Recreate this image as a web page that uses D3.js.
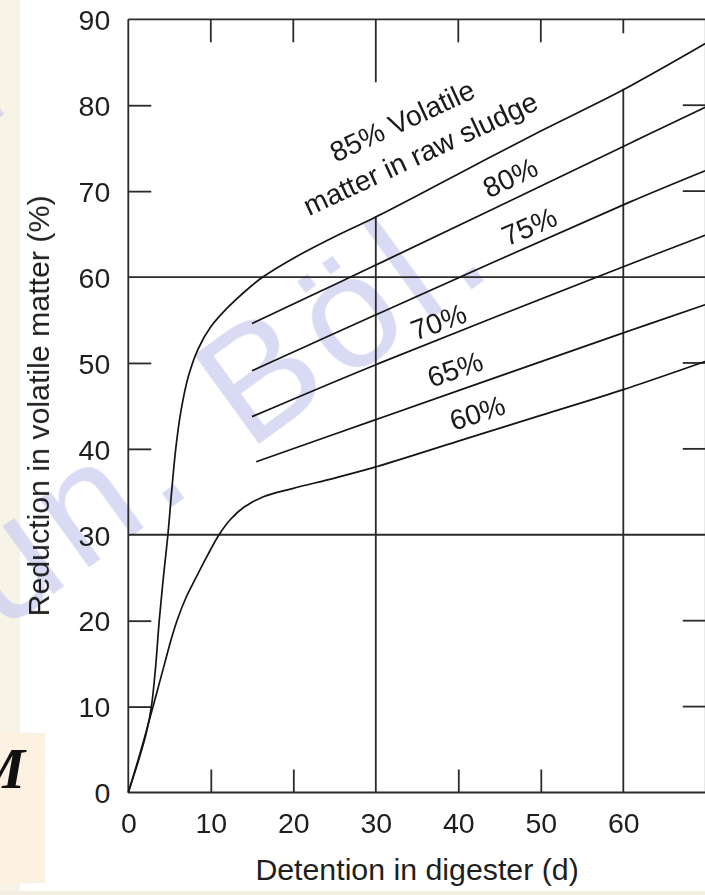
<!DOCTYPE html>
<html lang="en">
  <head>
    <meta charset="UTF-8" />
    <title>Reduction in volatile matter vs detention</title>
    <script src="https://d3js.org/d3.v7.min.js"></script>
    <style>
      body {
        margin: 0;
        background: #fff;
        font-family: "Liberation Sans", Arial, Helvetica, sans-serif;
      }
      svg {
        display: block;
      }
      .tick text {
        font-size: 28.5px;
        fill: #1e1e1e;
      }
      .tick line {
        stroke: #2a2a2a;
        stroke-width: 1.8px;
      }
      .frame,
      .grid {
        stroke: #2a2a2a;
        stroke-width: 1.8px;
      }
      .curve {
        fill: none;
        stroke: #141414;
        stroke-width: 1.7px;
      }
      .curve-label {
        font-size: 28.3px;
        fill: #1a1a1a;
      }
      .axis-title {
        font-size: 30.3px;
        fill: #1e1e1e;
      }
    </style>
  </head>
  <body>
    <div id="chart"></div>

    <script>
      // ticks
      const xTicks = [0, 10, 20, 30, 40, 50, 60];
      const yTicks = [0, 10, 20, 30, 40, 50, 60, 70, 80, 90];
      const gridX = [30, 60];
      const gridY = [30, 60];

      // curves: [days, % reduction]
      const curve85 = [
        [0, 0], [1.2, 3.6], [2.2, 7], [2.8, 10], [3.3, 14.5], [3.75, 20],
        [4.25, 25], [4.8, 30], [5.25, 35], [5.75, 40], [6.4, 44.5],
        [7.3, 48.5], [8.5, 51.7], [10, 54.2], [12, 56.4], [14, 58.2],
        [16.3, 60], [20.4, 62.4], [25, 64.7], [30, 67], [40, 72],
        [50, 77], [60, 81.8], [70, 87.2]
      ];
      const curve80 = [[15, 54.6], [30, 61.4], [60, 75.2], [70, 79.8]];
      const curve75 = [[15, 49.1], [30, 55.6], [60, 68.4], [70, 72.4]];
      const curve70 = [[15, 43.75], [30, 49.8], [60, 61.2], [70, 64.9]];
      const curve65 = [[15.5, 38.5], [30, 43.4], [60, 53.5], [70, 56.8]];
      const curve60 = [
        [0, 0], [1.2, 3.8], [2.2, 7.2], [3, 10], [3.7, 12.5], [4.4, 15],
        [5.1, 17.5], [5.9, 20], [7, 22.7], [8.2, 25], [9.6, 27.6],
        [11, 30], [12.4, 31.8], [14, 33.2], [16.3, 34.4], [20, 35.4],
        [25, 36.6], [30, 37.9], [40, 40.9], [50, 43.9], [60, 46.9],
        [70, 50.2]
      ];

      // labels: text, [days, %] anchor, angle
      const labelText = ["85% Volatile", "matter in raw sludge", "80%", "75%", "70%", "65%", "60%"];
      const labelAt = [[33.2, 78.2], [35.4, 74.4], [46.3, 71.6], [48.6, 65.9], [37.6, 54.8], [39.6, 49.3], [42.3, 44.2]];
      const labelAngle = [-25, -25, -25, -23, -20, -19, -18];

      const W = 705, H = 895;

      const svg = d3.select("#chart").append("svg")
        .attr("width", W).attr("height", H);

      // slide background bits
      svg.append("rect").attr("x", 0).attr("y", 0).attr("width", 20).attr("height", H).attr("fill", "#f7f3e6");
      svg.append("rect").attr("x", 0).attr("y", 733).attr("width", 45).attr("height", 150).attr("fill", "#fdf2e2");
      svg.append("rect").attr("x", 0).attr("y", 891).attr("width", W).attr("height", 4).attr("fill", "#f4eee0");
      svg.append("text").attr("x", 25).attr("y", 788).attr("text-anchor", "end")
        .style("font-family", "'Liberation Serif', 'DejaVu Serif', serif")
        .style("font-style", "italic").style("font-weight", "bold")
        .style("font-size", "58px").attr("fill", "#111").text("M");

      // watermark
      const wm = svg.append("g").attr("fill", "#c9cbf0").attr("opacity", 0.7)
        .style("font-size", "160px").style("letter-spacing", "10px");
      wm.append("text").attr("transform", "translate(0,632) rotate(-36)").text("ün. Böl.");
      wm.append("text").attr("transform", "translate(-45,150) rotate(-36)").text("Y");

      const x = d3.scaleLinear().domain([0, 70]).range([128.3, 705.8]);
      const y = d3.scaleLinear().domain([0, 90]).range([792.5, 19.3]);

      const at85 = (d) => curve85.find((p) => p[0] === d)[1];

      // frame and grid
      svg.append("line").attr("class", "frame")
        .attr("x1", x(0)).attr("x2", x(70)).attr("y1", y(90)).attr("y2", y(90));
      svg.append("line").attr("class", "frame")
        .attr("x1", x(0)).attr("x2", x(70)).attr("y1", y(0)).attr("y2", y(0));
      svg.append("line").attr("class", "frame")
        .attr("x1", x(0)).attr("x2", x(0)).attr("y1", y(0)).attr("y2", y(90));
      svg.append("line").attr("class", "frame")
        .attr("x1", x(70)).attr("x2", x(70)).attr("y1", y(0)).attr("y2", y(90));

      svg.selectAll(".gridy").data(gridY).join("line").attr("class", "grid")
        .attr("x1", x(0)).attr("x2", x(70))
        .attr("y1", (d) => y(d)).attr("y2", (d) => y(d));
      svg.selectAll(".gridx").data(gridX).join("line").attr("class", "grid")
        .attr("x1", (d) => x(d)).attr("x2", (d) => x(d))
        .attr("y1", y(0)).attr("y2", (d) => y(at85(d)) - 1);

      // top ticks (the 30 one runs longer, the 60 one is cut by the curve)
      const topTickLen = { 10: 23, 20: 23, 30: 63, 40: 23, 50: 23, 60: 14 };
      svg.selectAll(".ttick").data(d3.range(10, 61, 10)).join("line").attr("class", "grid")
        .attr("x1", (d) => x(d)).attr("x2", (d) => x(d))
        .attr("y1", y(90)).attr("y2", (d) => y(90) + topTickLen[d]);

      // right inner ticks
      svg.selectAll(".rtick").data(yTicks.filter((d) => d % 30 !== 0)).join("line").attr("class", "grid")
        .attr("x1", x(70) - 23).attr("x2", x(70))
        .attr("y1", (d) => y(d)).attr("y2", (d) => y(d));

      // axes
      const yAxis = d3.axisLeft(y).tickValues(yTicks)
        .tickSizeInner(-23).tickSizeOuter(0).tickPadding(18);
      const gy = svg.append("g").attr("transform", `translate(${x(0)},0)`).call(yAxis);
      gy.select(".domain").remove();
      gy.selectAll(".tick").filter((d) => d % 30 === 0).select("line").remove();
      gy.selectAll("text").attr("dy", "0.36em");

      const xAxis = d3.axisBottom(x).tickValues(xTicks)
        .tickSizeInner(-23).tickSizeOuter(0).tickPadding(20);
      const gx = svg.append("g").attr("transform", `translate(0,${y(0)})`).call(xAxis);
      gx.select(".domain").remove();
      gx.selectAll(".tick").filter((d) => d % 30 === 0).select("line").remove();
      svg.selectAll(".tick text").attr("font-family", null);
      svg.selectAll(".tick").attr("font-size", null);

      // curves
      const smooth = d3.line()
        .x((d) => x(d[0]))
        .y((d) => y(d[1]))
        .curve(d3.curveCatmullRom.alpha(0.5));

      svg.selectAll(".curve")
        .data([curve85, curve80, curve75, curve70, curve65, curve60])
        .join("path")
        .attr("class", "curve")
        .attr("d", smooth);

      // labels
      svg.selectAll(".curve-label").data(labelText).join("text")
        .attr("class", "curve-label")
        .attr("text-anchor", "middle")
        .attr("dominant-baseline", "central")
        .attr("transform", (d, i) =>
          `translate(${x(labelAt[i][0])},${y(labelAt[i][1])}) rotate(${labelAngle[i]})`)
        .text((d) => d);

      // axis titles
      svg.append("text").attr("class", "axis-title")
        .attr("x", (x(0) + x(70)) / 2).attr("y", 880)
        .attr("text-anchor", "middle")
        .text("Detention in digester (d)");

      svg.append("text").attr("class", "axis-title")
        .attr("transform", `translate(49,${(y(0) + y(90)) / 2}) rotate(-90)`)
        .attr("text-anchor", "middle")
        .text("Reduction in volatile matter (%)");
    </script>
  </body>
</html>
